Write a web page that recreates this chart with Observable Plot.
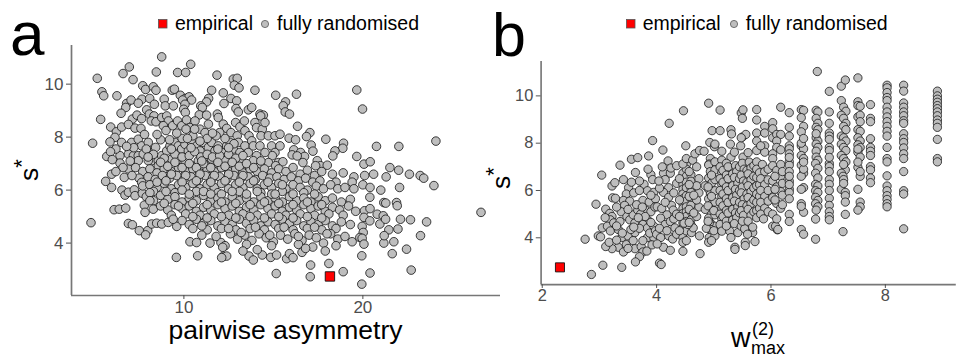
<!DOCTYPE html>
<html><head><meta charset="utf-8">
<script src="https://cdn.jsdelivr.net/npm/d3@7"></script>
<script src="https://cdn.jsdelivr.net/npm/@observablehq/plot@0.6"></script>
<style>
body{margin:0;width:961px;height:359px;overflow:hidden;position:relative;background:#fff;font-family:"Liberation Sans",Arial,sans-serif;}
#pa,#pb{position:absolute;top:0}
#pa{left:0}#pb{left:472px}
#overlay{position:absolute;left:0;top:0;pointer-events:none}
</style></head><body>
<div id="pa"></div><div id="pb"></div>
<svg id="overlay" width="961" height="359" font-family="Liberation Sans, Arial, sans-serif">
<text x="10" y="55" font-size="62">a</text>
<text x="492" y="56" font-size="61">b</text>
<rect x="158.5" y="19.5" width="8.5" height="8.5" fill="#ff0000" stroke="#555" stroke-width="0.8"/>
<text x="175" y="29.5" font-size="19.5">empirical</text>
<circle cx="265" cy="24" r="3.6" fill="#bebebe" stroke="#555" stroke-width="0.8"/>
<text x="277" y="29.5" font-size="19.5">fully randomised</text>
<rect x="626.5" y="19.5" width="8.5" height="8.5" fill="#ff0000" stroke="#555" stroke-width="0.8"/>
<text x="642.7" y="29.5" font-size="19.5">empirical</text>
<circle cx="734" cy="24" r="3.6" fill="#bebebe" stroke="#555" stroke-width="0.8"/>
<text x="745.7" y="29.5" font-size="19.5">fully randomised</text>
<text transform="translate(38,170) rotate(-90)" text-anchor="middle" font-size="26.5">s<tspan font-size="22" dy="-9">*</tspan></text>
<text transform="translate(510,178) rotate(-90)" text-anchor="middle" font-size="26.5">s<tspan font-size="22" dy="-9">*</tspan></text>
<text x="285.5" y="339" text-anchor="middle" font-size="26.5">pairwise asymmetry</text>
<text x="731" y="347" font-size="27">w</text>
<text x="752" y="335" font-size="18">(2)</text>
<text x="751" y="354" font-size="18">max</text>
</svg>
<script>
// ---- panel a: pairwise asymmetry vs s*  ([x, y])
const randomA = [
[8.76,11.03],[10.38,10.75],[6.95,10.65],[6.6,10.4],[8.46,10.46],[9.65,10.44],[10.1,10.44],[5.16,10.22],[7.16,10.17],[11.85,10.34],[12.76,10.19],[12.98,10.22],[12.82,9.96],[13.08,9.86],[13.97,9.77],[15.13,9.58],[5.42,9.71],[5.52,9.56],[6.26,9.56],[7.7,9.94],[7.86,9.8],[8.29,9.9],[8.44,9.77],[9.35,9.77],[9.47,9.81],[9.8,9.58],[10.08,9.46],[10.29,9.52],[9.93,9.4],[10.43,9.4],[11.55,9.77],[11.38,9.46],[11.27,9.33],[12.2,9.67],[12.63,9.46],[12.95,9.37],[6.8,9.27],[7.05,9.4],[6.75,9.12],[7.66,9.43],[7.45,9.28],[8.09,9.46],[8.35,9.24],[8.9,9.43],[8.96,9.18],[9.41,9.18],[10.06,9.24],[9.99,9.05],[10.08,8.93],[10.94,9.18],[11.03,9.12],[10.86,8.84],[11.27,8.83],[11.87,8.87],[12.24,9.27],[12.91,9.08],[13.04,8.95],[13.6,9.03],[13.79,9.12],[14.25,8.87],[14.44,8.83],[6.49,8.9],[5.35,8.67],[5.91,8.38],[6.23,8.2],[6.52,8.38],[7.12,8.68],[6.9,8.48],[7.27,8.34],[7.6,8.33],[7.38,8.83],[7.64,8.7],[7.92,9.03],[8.07,8.87],[8.33,8.8],[8.18,8.61],[8.44,8.58],[8.76,8.74],[9.04,8.8],[9.13,8.61],[8.85,8.43],[9.37,8.43],[9.65,8.61],[9.88,8.43],[10.15,8.65],[10.34,8.36],[10.12,8.3],[10.62,8.61],[10.9,8.3],[11.37,8.49],[11.18,8.17],[11.92,8.74],[12.2,8.49],[12.39,8.33],[12.63,8.17],[12.0,8.17],[12.89,8.55],[13.13,8.39],[13.38,8.61],[13.41,8.24],[12.98,8.05],[13.97,8.55],[14.06,8.36],[14.29,8.8],[14.38,8.3],[14.53,8.55],
[16.29,9.62],[19.66,9.78],[19.98,9.06],[15.68,9.33],[15.55,9.18],[15.66,8.95],[15.9,8.87],[16.35,8.41],
[14.31,8.05],[14.72,8.05],[15.09,8.05],[15.37,8.11],[13.64,8.05],[13.79,7.86],[14.9,7.67],[15.09,7.42],[14.94,7.3],[15.37,7.67],[15.28,7.04],[6.15,7.99],[6.52,7.8],[7.08,7.8],[7.45,7.92],[7.64,7.67],[8.01,7.8],[5.69,7.27],[6.43,7.3],[6.43,7.02],[6.9,7.36],[7.18,7.3],[7.45,7.3],[7.73,7.36],[8.05,7.48],[8.42,7.61],[8.2,7.11],[8.57,7.11],[8.76,7.3],[9.04,7.48],[9.22,7.67],[9.5,7.8],[9.69,7.67],[9.88,7.55],[10.06,7.73],[10.25,7.48],[10.43,7.8],[10.71,7.67],[10.9,7.48],[11.09,7.8],[11.37,7.61],[11.55,7.8],[11.74,7.48],[11.92,7.67],[12.2,7.42],[12.39,7.67],[12.58,7.8],[12.76,7.55],[13.04,7.8],[13.13,7.42],[13.41,7.67],[13.6,7.42],[13.88,7.67],[14.06,7.3],[14.25,7.67],[14.53,7.42],[4.9,7.77],[5.87,7.82],
[17.04,8.17],[16.85,8.02],[15.88,7.96],[16.24,7.9],[17.93,7.92],[17.11,7.7],[17.21,7.47],[18.92,7.77],[18.88,7.58],[18.44,7.48],[18.32,7.29],[20.76,7.65],[22.01,7.65],[24.08,7.85],[19.66,7.27],[16.14,7.52],[16.52,7.42],[16.05,7.33],[16.74,7.27],[16.33,7.29],[15.53,7.07],[16.65,7.04],[17.45,7.11],[17.63,6.92],[18.01,6.94],[17.36,6.92],[20.06,6.98],[20.41,7.07],[21.51,6.85],
[7.45,7.11],[8.01,7.11],[8.57,6.92],[8.94,7.04],[9.32,7.17],[9.69,6.98],[10.06,7.11],[10.43,6.92],[10.81,7.11],[11.18,6.98],[11.55,7.17],[11.92,6.92],[12.3,7.11],[12.67,6.98],[13.23,7.04],[13.6,6.92],[13.88,7.11],[14.25,6.92],[14.72,7.04],[15.13,6.92],
[8.3,7.35],[8.9,7.2],[9.5,7.35],[9.9,7.25],[10.3,7.3],[10.6,7.45],[10.95,7.25],[11.3,7.35],[11.6,7.25],[12.0,7.3],[12.5,7.35],[12.9,7.2],[13.3,7.3],[9.2,7.9],[9.9,7.95],[10.5,8.05],[11.3,7.95],[11.8,8.05],[12.3,7.95],[12.8,7.75],[10.9,7.85],[11.9,7.55],[10.4,7.6],[9.3,7.55],[8.7,7.9],[7.9,7.55],[7.2,7.6],[6.8,7.65],[6.2,7.55],[5.9,7.45],
[6.9,6.8],[7.3,6.85],[7.7,6.7],[8.1,6.8],[8.5,6.65],[8.9,6.8],[9.3,6.7],[9.7,6.85],[10.1,6.7],[10.5,6.8],[10.9,6.65],[11.3,6.8],[11.7,6.7],[12.1,6.85],[12.5,6.7],[12.9,6.8],[13.3,6.65],[13.7,6.8],[14.1,6.7],[14.5,6.8],[14.9,6.65],[15.3,6.8],[15.7,6.7],[16.1,6.85],[16.5,6.6],[16.9,6.75],[17.3,6.55],[17.7,6.7],[18.3,6.6],[18.9,6.65],[19.5,6.5],[20.1,6.55],[20.6,6.6],[21.3,6.5],[22.0,6.75],[22.6,6.6],[23.2,6.55],[23.4,6.45],
[7.5,6.45],[8.0,6.5],[8.4,6.4],[8.8,6.55],[9.2,6.45],[9.6,6.55],[10.0,6.4],[10.4,6.5],[10.8,6.4],[11.2,6.55],[11.6,6.45],[12.0,6.5],[12.4,6.4],[12.8,6.55],[13.2,6.45],[13.6,6.5],[14.0,6.4],[14.4,6.55],[14.8,6.45],[15.2,6.5],[15.6,6.4],[16.0,6.5],[16.4,6.35],[16.8,6.45],[17.2,6.3],[17.6,6.35],[18.5,6.3],[19.4,6.3],
[5.63,6.33],[5.96,6.1],[5.96,6.6],[6.67,6.48],[6.54,6.0],[6.71,5.81],[6.9,5.92],[7.23,6.01],[7.27,5.79],[7.68,5.88],[7.64,6.29],[7.7,6.16],
[8.1,6.2],[8.5,6.1],[8.9,6.25],[9.3,6.05],[9.7,6.2],[10.1,6.1],[10.5,6.25],[10.9,6.05],[11.3,6.2],[11.7,6.1],[12.1,6.25],[12.5,6.05],[12.9,6.2],[13.3,6.1],[13.7,6.25],[14.1,6.05],[14.5,6.2],[14.9,6.1],[15.3,6.25],[15.7,6.05],[16.1,6.2],[16.5,6.1],[16.9,6.0],[17.4,6.15],[17.8,6.05],[18.2,6.2],[18.6,6.05],[19.0,6.1],[19.5,6.05],[20.0,6.2],[20.4,6.1],[21.0,6.0],[22.05,6.1],[23.97,6.17],[8.3,5.95],[9.5,5.9],[10.7,5.95],[11.9,5.9],[13.1,5.95],[14.3,5.9],[15.5,5.95],[16.7,5.9],
[7.9,5.75],[8.3,5.6],[8.7,5.8],[9.1,5.65],[9.5,5.75],[9.9,5.55],[10.3,5.7],[10.7,5.6],[11.1,5.8],[11.5,5.6],[11.9,5.7],[12.3,5.55],[12.7,5.75],[13.1,5.6],[13.5,5.7],[13.9,5.55],[14.3,5.75],[14.7,5.6],[15.1,5.7],[15.5,5.55],[15.9,5.75],[16.3,5.6],[16.7,5.7],[17.1,5.55],[17.5,5.75],[17.9,5.6],[18.3,5.7],[18.8,5.55],[19.3,5.65],[20.39,5.73],[21.17,5.53],[21.28,5.51],[21.88,5.53],[21.92,5.41],[8.1,5.9],[12.1,5.85],[14.9,5.85],[16.1,5.85],[17.3,5.85],
[7.79,5.43],[7.83,5.16],[8.29,5.28],[8.1,5.6],[6.1,5.26],[6.39,5.28],[6.75,5.32],[8.7,5.4],[9.1,5.25],[9.5,5.45],[9.9,5.3],[10.3,5.4],[10.7,5.2],[11.1,5.35],[11.5,5.25],[11.9,5.45],[12.3,5.3],[12.7,5.4],[13.1,5.2],[13.5,5.35],[13.9,5.25],[14.3,5.45],[14.7,5.3],[15.1,5.4],[15.5,5.2],[15.9,5.35],[16.3,5.25],[16.7,5.45],[17.1,5.3],[17.5,5.4],[17.9,5.2],[18.3,5.35],[18.7,5.25],[19.2,5.4],[19.6,5.2],[20.09,5.22],[20.8,5.09],[21.14,5.03],[20.4,5.3],[9.3,5.05],[10.1,5.1],[10.9,5.05],[11.7,5.1],[12.5,5.05],[13.3,5.1],[14.1,5.05],[14.9,5.1],[15.7,5.05],[16.5,5.1],[17.3,5.05],[18.1,5.1],[18.9,5.05],[26.6,5.16],[20.06,4.97],
[4.81,4.77],[6.9,4.74],[7.12,4.69],[7.51,4.47],[7.98,4.47],[7.86,4.31],[8.2,4.72],[8.48,4.75],[8.76,4.72],[9.13,4.78],[9.6,4.63],[9.4,4.9],[9.9,4.85],[10.3,4.7],[10.7,4.9],[11.1,4.75],[11.5,4.85],[11.9,4.65],[12.3,4.8],[12.7,4.7],[13.1,4.9],[13.5,4.75],[13.9,4.85],[14.3,4.65],[14.7,4.8],[15.1,4.7],[15.5,4.9],[15.9,4.75],[16.3,4.85],[16.7,4.65],[17.1,4.8],[17.5,4.7],[17.9,4.85],[18.3,4.65],[18.8,4.8],[19.3,4.7],[20.39,4.84],[20.95,4.72],[21.27,4.9],[22.1,4.9],[22.66,4.88],[23.56,4.8],[21.45,4.5],[21.96,4.53],[19.96,4.63],[20.02,4.4],[10.5,4.55],[11.3,4.5],[12.1,4.55],[12.9,4.5],[13.7,4.55],[14.5,4.5],[15.3,4.55],[16.1,4.5],[16.9,4.55],[17.7,4.5],[18.5,4.55],
[10.34,4.05],[10.71,4.02],[11.46,4.0],[12.07,4.02],[12.3,3.9],[12.17,3.84],[11.0,4.3],[11.8,4.25],[12.6,4.35],[13.0,4.15],[13.4,4.3],[13.8,4.1],[14.2,4.35],[14.6,4.2],[15.0,4.05],[15.4,4.3],[15.8,4.15],[16.2,4.35],[16.6,4.1],[17.0,4.3],[17.4,4.2],[17.8,4.0],[18.2,4.35],[18.6,4.15],[19.0,4.25],[19.4,4.05],[19.83,4.21],[19.96,4.18],[20.06,3.96],[21.17,4.0],[21.19,4.28],[21.73,4.05],[23.22,4.28],[13.5,3.95],[14.9,3.9],[16.4,3.95],[17.2,3.85],[18.5,3.9],
[9.58,3.46],[10.77,3.52],[12.2,3.5],[12.39,3.51],[12.11,3.45],[13.64,3.51],[13.88,3.36],[14.38,3.55],[14.85,3.46],[15.18,3.55],[15.16,2.85],[15.74,3.41],[17.08,3.17],[17.06,2.73],[18.1,3.23],[18.9,2.92],[19.94,2.45],[20.4,2.87],[19.94,3.52],[21.64,3.6],[22.44,3.77],[22.7,2.98],[16.6,3.65],[14.1,3.75],[15.9,3.6],[16.1,3.45],[17.9,3.7],[13.3,3.7],[16.8,3.8],
[8.7,7.05],[9.1,6.9],[9.5,7.05],[9.9,6.85],[10.3,7.0],[10.7,6.85],[11.1,7.0],[11.5,6.85],[11.9,7.05],[12.3,6.9],[12.7,7.05],[13.1,6.9],[13.5,7.0],[13.9,6.85],[14.3,7.1],[10.1,6.55],[10.9,6.6],[11.7,6.55],[12.5,6.6],[13.3,6.55],[9.3,6.6],[8.5,6.3],[9.0,6.35],[9.9,6.3],[10.7,6.35],[11.5,6.3],[12.3,6.35],[13.1,6.3],[13.9,6.35],[14.7,6.3],[15.5,6.2],[9.0,5.95],[9.9,6.0],[10.3,5.85],[11.1,5.95],[11.5,5.85],[12.7,5.95],[13.5,5.85],[14.1,5.95],[15.1,5.85],[8.9,5.5],[9.7,5.4],[10.5,5.5],[11.3,5.45],[12.1,5.55],[12.9,5.5],[13.7,5.45],[14.5,5.55],[15.3,5.5],[16.1,5.45],[16.9,5.55],[17.7,5.45],[10.5,5.0],[11.3,4.95],[12.1,5.0],[12.9,4.95],[13.7,5.0],[14.5,4.95],[15.3,5.0],[16.1,4.95],[16.9,5.0],[17.7,4.95],[11.0,4.65],[12.5,4.55],[14.0,4.6],[15.6,4.6],[17.3,4.6],[18.0,4.35],[16.4,4.25],[14.8,4.3],[13.2,4.4],
[8.5,8.1],[9.6,8.15],[10.6,8.3],[11.6,8.15],[7.8,8.1],[9.0,8.25],[10.2,7.95],[12.5,7.6],[11.0,7.1],[8.0,7.25],[7.0,7.1],[6.6,6.85],[7.1,6.55],[6.2,6.7],[6.0,7.15]
];
const empiricalA = [[18.16, 2.74]];

// ---- panel b: w_max^(2) vs s*  ([x, y])
const randomB = [
[2.75,3.94],[2.86,2.45],[2.94,5.42],[3.04,6.65],[3.06,2.84],[2.98,4.08],[3.02,4.04],[3.05,4.42],
[3.36,7.07],[3.22,6.19],[3.27,6.33],[3.42,6.46],[3.51,6.12],[3.47,5.85],[3.42,5.58],[3.53,5.55],[3.44,5.37],[3.23,5.69],[3.28,5.67],[3.11,5.21],[3.18,5.03],[3.22,4.9],[3.19,4.76],[3.14,4.49],[3.25,4.63],[3.38,5.1],[3.36,4.69],[3.48,4.9],[3.19,4.29],[3.33,4.35],[3.39,4.01],[3.5,4.08],[3.47,3.71],[3.33,3.6],[3.22,3.54],[3.11,3.63],[3.17,3.81],[3.42,3.4],[3.39,2.75],[3.1,4.85],[3.3,4.5],
[3.63,6.76],[3.53,4.76],[3.62,4.63],[3.59,4.97],[3.67,5.17],[3.62,4.22],[3.59,3.88],[3.62,3.54],[3.73,3.63],[3.76,3.4],[3.83,3.44],[3.7,3.2],[3.63,2.98],[3.56,7.32],[3.67,7.39],[3.86,7.46],[3.93,8.11],[3.78,6.26],[3.9,6.67],[3.93,6.46],[3.84,5.99],[3.95,5.92],[3.76,5.58],[3.87,5.51],[3.98,5.65],[3.81,5.17],[3.9,5.1],[3.84,4.76],[3.76,4.56],[3.84,4.42],[3.95,4.49],[3.84,4.01],[3.95,4.01],[3.76,3.88],[3.6,5.9],[3.7,6.0],[3.65,5.4],[3.72,5.0],[3.7,4.4],[3.88,4.2],[3.98,4.3],[3.92,3.7],[3.55,4.35],[3.8,4.9],[3.97,5.3],[3.7,6.4],[3.85,6.9],
[3.3,5.3],[3.5,5.2],[3.56,6.35],[3.4,4.2],[3.6,4.45],[3.75,5.3],[3.9,4.65],[3.3,3.9],[3.5,3.55],[3.9,5.8],[4.0,4.15],[3.68,4.85],
[4.05,2.93],[4.08,2.87],[4.11,7.71],[4.2,7.25],[4.22,8.84],[4.01,5.31],[4.09,5.24],[4.12,6.73],[4.24,6.73],[4.15,6.46],[4.21,6.12],[4.12,5.92],[4.21,5.71],[4.26,5.37],[4.29,5.17],[4.18,4.97],[4.07,4.83],[4.15,4.56],[4.24,4.69],[4.32,4.42],[4.21,4.08],[4.07,4.01],[4.12,3.6],[4.24,3.47],[4.01,3.74],[4.05,4.4],[4.3,4.8],[4.3,5.9],[4.05,6.1],[4.35,6.3],[4.25,6.95],[4.1,7.0],[4.35,7.05],[4.15,5.5],[4.35,5.0],[4.28,3.95],[4.35,4.15],[4.04,6.4],[4.18,4.3],
[4.46,6.73],[4.46,6.46],[4.46,6.26],[4.46,6.05],[4.46,5.85],[4.46,5.65],[4.46,5.44],[4.46,5.24],[4.46,5.03],[4.46,4.83],[4.46,4.63],[4.46,4.42],[4.46,4.22],[4.46,4.01],[4.46,3.81],[4.46,3.43],
[4.52,7.1],[4.52,6.9],[4.52,6.6],[4.52,6.35],[4.52,6.12],[4.52,5.78],[4.52,5.55],[4.52,5.31],[4.52,5.1],[4.52,4.9],[4.52,4.69],[4.52,4.49],[4.52,4.29],[4.52,3.88],[4.51,7.89],[4.47,9.37],[4.46,7.12],[4.52,7.35],
[4.6,6.67],[4.6,6.39],[4.6,6.12],[4.6,5.92],[4.6,5.65],[4.6,5.37],[4.6,5.1],[4.6,4.76],[4.6,4.56],[4.61,4.22],[4.63,7.28],[4.67,7.55],
[4.64,4.42],[4.75,4.08],[4.76,3.33],[4.74,5.3],[4.74,5.9],[4.74,6.5],[4.75,7.69],[4.7,7.0],[4.7,6.2],[4.7,5.6],[4.7,4.9],[4.55,4.56],[4.48,4.62],
[4.57,6.8],[4.57,6.25],[4.57,5.75],[4.57,5.2],[4.57,4.65],[4.65,5.8],[4.65,5.05],[4.4,5.6],[4.4,4.9],[4.4,6.5],[4.4,4.3],
[4.91,9.69],[4.93,8.03],[5.01,7.85],[5.02,7.96],[4.97,8.53],[4.94,7.35],[4.92,7.12],[4.83,7.66],
[4.91,7.08],[4.94,6.8],[4.91,6.53],[4.97,6.33],[4.91,6.05],[4.94,5.85],[4.91,5.65],[4.97,5.44],[4.92,5.24],[4.96,5.03],[4.91,4.83],[4.94,4.63],[4.91,4.42],[4.97,4.22],[4.92,4.01],[4.91,3.81],[5.02,7.21],[5.02,6.87],[5.02,6.46],[5.02,5.99],[5.02,5.51],[5.02,4.97],[5.02,4.49],[5.02,4.08],[4.92,4.62],[4.95,4.35],[4.96,3.88],[4.85,5.2],[4.85,6.2],[4.87,4.4],
[4.9,6.15],[4.9,5.35],[4.9,4.7],[4.96,6.65],[4.96,5.75],[5.0,5.15],[5.0,4.3],
[5.11,9.4],[5.11,8.53],[5.14,7.66],[5.14,7.28],[5.11,7.0],[5.14,6.75],[5.11,6.5],[5.14,6.25],[5.11,6.0],[5.14,5.75],[5.11,5.5],[5.14,5.25],[5.11,5.0],[5.14,4.8],[5.11,4.56],[5.14,4.28],
[5.16,6.85],[5.16,6.35],[5.16,5.85],[5.16,5.35],[5.16,4.9],
[5.3,8.57],[5.31,8.39],[5.29,7.96],[5.3,7.41],[5.22,7.15],[5.28,6.9],[5.22,6.65],[5.28,6.4],[5.22,6.15],[5.28,5.9],[5.22,5.65],[5.28,5.4],[5.22,5.15],[5.28,4.95],[5.22,4.7],[5.28,4.28],[5.3,4.01],[5.22,4.5],
[5.25,7.0],[5.25,6.5],[5.25,6.0],[5.25,5.5],[5.25,5.05],[5.33,6.7],[5.33,6.2],[5.33,5.7],[5.33,5.2],[5.33,4.75],
[5.36,7.62],[5.37,3.6],[5.37,3.51],[5.38,7.05],[5.4,6.8],[5.36,6.55],[5.42,6.3],[5.38,6.05],[5.4,5.8],[5.36,5.55],[5.42,5.3],[5.38,5.05],[5.4,4.85],[5.42,4.22],[5.36,4.6],
[5.45,7.0],[5.45,6.5],[5.45,6.0],[5.45,5.5],[5.45,5.05],
[5.48,9.28],[5.51,9.41],[5.5,9.05],[5.47,7.89],[5.5,8.26],[5.56,8.37],[5.48,8.23],[5.51,7.41],[5.48,4.49],[5.54,4.38],[5.55,3.81],[5.55,3.67],[5.5,7.15],[5.53,6.9],[5.48,6.65],[5.52,6.4],[5.5,6.15],[5.48,5.9],[5.53,5.65],[5.5,5.4],[5.48,5.15],[5.52,4.95],[5.5,4.7],
[5.58,6.85],[5.58,6.35],[5.58,5.85],[5.58,5.35],
[5.72,3.84],[5.68,4.22],[5.59,4.15],[5.6,7.6],[5.62,7.2],[5.65,6.95],[5.6,6.7],[5.65,6.45],[5.6,6.2],[5.65,5.95],[5.6,5.7],[5.65,5.45],[5.6,5.2],[5.65,4.95],[5.6,4.7],[5.68,4.45],
[5.7,7.05],[5.7,6.6],[5.7,6.1],[5.7,5.6],[5.7,5.1],
[5.75,9.42],[5.75,8.98],[5.75,8.43],[5.75,8.09],[5.75,7.69],[5.75,7.21],[5.75,6.9],[5.75,6.55],[5.75,6.2],[5.75,5.85],[5.75,5.5],[5.75,5.15],[5.75,4.85],
[5.8,6.75],[5.8,6.25],[5.8,5.75],[5.8,5.25],
[5.89,8.71],[5.89,8.43],[5.89,7.89],[5.89,7.62],[5.82,7.89],[5.85,7.1],[5.89,6.8],[5.82,6.5],[5.89,6.25],[5.82,6.0],[5.89,5.75],[5.82,5.5],[5.89,5.25],[5.82,5.0],[5.87,4.8],
[5.95,6.9],[5.95,6.45],[5.95,6.0],[5.95,5.55],[5.95,5.1],
[6.03,8.87],[6.03,8.61],[6.03,8.23],[6.1,8.37],[6.17,8.37],[6.1,8.09],[6.1,7.82],[6.03,7.55],[6.17,7.72],[6.03,7.35],[6.17,9.52],[6.03,4.49],[6.11,4.34],[6.08,4.49],[6.12,4.35],[6.03,7.05],[6.1,6.85],[6.17,6.6],[6.03,6.4],[6.1,6.15],[6.17,5.95],[6.03,5.7],[6.1,5.45],[6.17,5.25],[6.03,5.0],[6.1,4.8],[6.17,7.1],
[6.07,6.6],[6.07,6.05],[6.07,5.6],[6.2,6.8],[6.2,6.3],[6.2,5.8],[6.2,5.4],
[6.32,9.29],[6.32,8.67],[6.32,8.3],[6.32,7.89],[6.32,7.76],[6.32,7.55],[6.32,7.21],[6.32,7.07],[6.32,6.8],[6.32,6.39],[6.32,6.05],[6.32,5.92],[6.32,5.65],[6.32,4.99],[6.32,4.69],[6.32,7.4],[6.32,6.6],[6.32,6.25],
[6.53,9.42],[6.57,9.39],[6.53,9.08],[6.57,8.71],[6.53,8.48],[6.53,7.89],[6.57,7.76],[6.53,7.48],[6.57,7.35],[6.53,7.07],[6.57,6.73],[6.53,6.6],[6.57,6.12],[6.53,6.05],[6.53,5.44],[6.57,5.08],[6.53,5.33],[6.53,4.35],[6.57,4.15],[6.57,6.9],[6.57,7.2],[6.53,8.0],[6.57,8.2],
[6.81,11.03],[6.79,9.39],[6.82,9.32],[6.79,9.05],[6.82,8.84],[6.79,8.67],[6.82,8.57],[6.79,8.23],[6.82,8.09],[6.79,7.96],[6.82,7.82],[6.79,7.66],[6.79,7.41],[6.82,7.28],[6.78,7.14],[6.82,6.94],[6.78,6.73],[6.82,6.53],[6.78,6.26],[6.82,6.19],[6.78,5.99],[6.82,5.92],[6.78,5.71],[6.82,5.58],[6.78,5.44],[6.82,5.31],[6.79,5.17],[6.78,4.79],[6.78,3.94],[6.79,8.4],
[7.02,10.19],[7.02,9.32],[7.02,8.84],[7.02,8.43],[7.02,8.3],[7.02,8.16],[7.02,7.82],[7.02,7.69],[7.02,7.14],[7.02,7.01],[7.02,6.46],[7.02,6.26],[7.02,5.67],[7.02,5.37],[7.02,5.1],[7.02,4.9],[7.02,4.76],[7.02,7.4],[7.02,6.8],[7.02,6.0],
[7.23,10.41],[7.3,10.67],[7.23,9.8],[7.27,9.52],[7.31,9.35],[7.23,9.18],[7.27,9.05],[7.31,8.84],[7.27,8.71],[7.31,8.57],[7.23,8.3],[7.27,8.23],[7.31,8.09],[7.23,7.96],[7.27,7.82],[7.31,7.69],[7.23,7.48],[7.27,7.35],[7.31,7.21],[7.3,6.87],[7.23,6.73],[7.26,6.6],[7.27,6.46],[7.23,6.05],[7.3,5.92],[7.3,5.78],[7.3,5.51],[7.3,4.99],[7.26,4.26],[7.27,7.1],[7.27,6.3],
[7.52,10.76],[7.52,9.75],[7.52,9.59],[7.56,9.56],[7.52,9.11],[7.56,9.18],[7.56,8.91],[7.52,8.57],[7.56,8.5],[7.52,8.23],[7.56,8.09],[7.52,7.93],[7.56,7.82],[7.52,7.62],[7.56,7.41],[7.52,6.98],[7.56,6.6],[7.52,6.05],[7.56,5.51],[7.56,5.31],[7.52,5.17],[7.52,7.2],[7.56,6.8],[7.52,7.75],
[7.74,9.63],[7.74,9.05],[7.74,8.91],[7.74,8.19],[7.74,7.82],[7.74,7.66],[7.74,7.48],[7.74,7.01],[7.74,6.87],[7.74,6.53],[7.74,6.33],
[8.03,10.45],[8.03,10.34],[8.03,10.14],[8.03,9.93],[8.03,9.8],[8.03,9.52],[8.03,9.32],[8.03,9.11],[8.03,8.91],[8.03,8.71],[8.03,8.5],[8.03,8.3],[8.03,7.82],[8.03,7.35],[8.03,7.21],[8.03,6.62],[8.03,6.19],[8.03,5.99],[8.03,5.78],[8.03,5.62],[8.03,5.44],[8.03,5.31],
[8.32,10.45],[8.32,10.2],[8.32,9.7],[8.32,9.52],[8.32,9.32],[8.32,9.16],[8.32,8.95],[8.32,8.84],[8.32,8.4],[8.32,8.19],[8.32,8.03],[8.32,7.8],[8.32,7.55],[8.32,7.35],[8.32,6.8],[8.32,5.99],[8.32,5.85],[8.32,4.38],
[8.91,10.2],[8.91,10.0],[8.91,9.86],[8.91,9.73],[8.91,9.59],[8.91,9.46],[8.91,9.32],[8.91,9.16],[8.91,8.98],[8.91,8.84],[8.91,8.67],[8.91,8.16],[8.91,7.35],[8.91,7.21]
];
const empiricalB = [[2.31, 2.75]];

const yTicks = [4, 6, 8, 10];
const xTicksA = [10, 20];
const xTicksB = [2, 4, 6, 8];

function expand(vals) {
  const [lo, hi] = d3.extent(vals);
  const pad = (hi - lo) * 0.05;
  return [lo - pad, hi + pad];
}

function panel(rand, emp, xTicks, opts) {
  const all = rand.concat(emp);
  const xd = expand(all.map(d => d[0]));
  const yd = expand(all.map(d => d[1]));
  return Plot.plot({
    width: opts.width, height: opts.height,
    marginLeft: 71, marginRight: opts.width - 71 - opts.plotW,
    marginTop: opts.top, marginBottom: opts.height - opts.top - opts.plotH,
    x: {domain: xd, label: null},
    y: {domain: yd, label: null},
    style: {font: "17px 'Liberation Sans', Arial, sans-serif", color: "#4d4d4d", background: "transparent", overflow: "visible"},
    marks: [
      Plot.ruleY([yd[0]], {stroke: "#777", strokeWidth: 1.7}),
      Plot.ruleX([xd[0]], {stroke: "#777", strokeWidth: 1.7}),
      Plot.axisY({ticks: yTicks, tickSize: 5, tickPadding: 3, label: null}),
      Plot.axisX({ticks: xTicks, tickSize: 4, tickPadding: 1, label: null}),
      Plot.dot(rand, {x: d => d[0], y: d => d[1], r: 4.3, fill: "#bebebe", stroke: "#111", strokeWidth: 0.8}),
      Plot.dot(emp, {x: d => d[0], y: d => d[1], symbol: "square", r: 5.3, fill: "#ff0000", stroke: "#111", strokeWidth: 0.9})
    ]
  });
}

document.getElementById("pa").append(panel(randomA, empiricalA, xTicksA, {width: 505, height: 320, top: 45, plotH: 250, plotW: 429}));
document.getElementById("pb").append(panel(randomB, empiricalB, xTicksB, {width: 506, height: 319, top: 63, plotH: 231, plotW: 429.6}));
</script>
</body></html>
